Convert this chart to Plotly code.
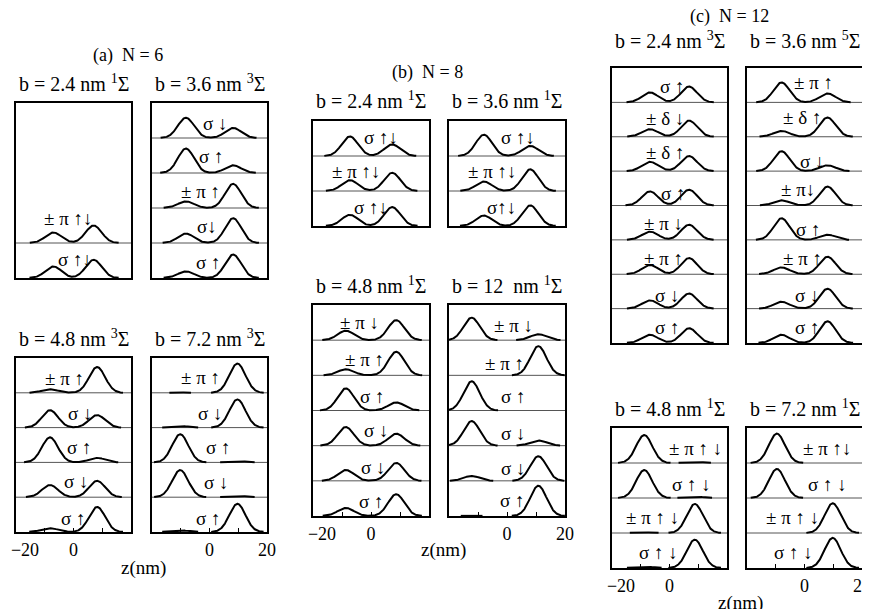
import numpy as np
import plotly.graph_objects as go

# page body adds an 8 px margin, so the figure is laid out in page pixels minus OFF
OFF = 8
W, H = 862, 601
FONT = "Liberation Serif, DejaVu Serif"

# ---------------- data (rows listed top to bottom) ----------------
panels = ["a1", "a2", "a3", "a4", "b1", "b2", "b3", "b4", "c1", "c2", "c3", "c4"]

subtitles = {
    "a1": "b = 2.4 nm <sup>1</sup>Σ", "a2": "b = 3.6 nm <sup>3</sup>Σ",
    "a3": "b = 4.8 nm <sup>3</sup>Σ", "a4": "b = 7.2 nm <sup>3</sup>Σ",
    "b1": "b = 2.4 nm <sup>1</sup>Σ", "b2": "b = 3.6 nm <sup>1</sup>Σ",
    "b3": "b = 4.8 nm <sup>1</sup>Σ", "b4": "b = 12\u00a0 nm <sup>1</sup>Σ",
    "c1": "b = 2.4 nm <sup>3</sup>Σ", "c2": "b = 3.6 nm <sup>5</sup>Σ",
    "c3": "b = 4.8 nm <sup>1</sup>Σ", "c4": "b = 7.2 nm <sup>1</sup>Σ",
}
group_titles = ["(a)\u00a0\u00a0N = 6", "(b)\u00a0\u00a0N = 8", "(c)\u00a0\u00a0N = 12"]

n_slots = {"a1": 5, "a2": 5, "a3": 5, "a4": 5, "b1": 3, "b2": 3,
           "b3": 6, "b4": 6, "c1": 8, "c2": 8, "c3": 4, "c4": 4}

labels = {
    "a1": ["± π ↑↓", "σ ↑↓"],
    "a2": ["σ ↓", "σ ↑", "± π ↑", "σ↓", "σ ↑"],
    "a3": ["± π ↑", "σ ↓", "σ ↑", "σ ↓", "σ ↑"],
    "a4": ["± π ↑", "σ ↓", "σ ↑", "σ ↓", "σ ↑"],
    "b1": ["σ ↑↓", "± π ↑↓", "σ ↑↓"],
    "b2": ["σ ↑↓", "± π ↑↓", "σ↑↓"],
    "b3": ["± π ↓", "± π ↑", "σ ↑", "σ ↓", "σ ↓", "σ ↑"],
    "b4": ["± π ↓", "± π ↑", "σ ↑", "σ ↓", "σ ↓", "σ ↑"],
    "c1": ["σ ↑", "± δ ↓", "± δ ↑", "σ ↑", "± π ↓", "± π ↑", "σ ↓", "σ ↑"],
    "c2": ["± π ↑", "± δ ↑", "σ ↓", "± π↓", "σ ↑", "± π ↑", "σ ↓", "σ ↑"],
    "c3": ["± π ↑ ↓", "σ ↑ ↓", "± π ↑ ↓", "σ ↑ ↓"],
    "c4": ["± π ↑↓", "σ ↑ ↓", "± π ↑ ↓", "σ ↑ ↓"],
}

left_amp = {
    "a1": [0.30, 0.33],
    "a2": [0.58, 0.70, 0.19, 0.27, 0.19],
    "a3": [0.10, 0.50, 0.72, 0.35, 0.11],
    "a4": [0.01, 0.05, 0.81, 0.78, 0.05],
    "b1": [0.56, 0.31, 0.32],
    "b2": [0.61, 0.27, 0.30],
    "b3": [0.27, 0.17, 0.63, 0.53, 0.31, 0.23],
    "b4": [0.64, 0.00, 0.83, 0.70, 0.14, 0.01],
    "c1": [0.29, 0.22, 0.27, 0.41, 0.24, 0.27, 0.24, 0.24],
    "c2": [0.58, 0.17, 0.58, 0.15, 0.63, 0.20, 0.20, 0.24],
    "c3": [0.80, 0.80, 0.02, 0.04],
    "c4": [0.84, 0.83, 0.00, 0.00],
}
right_amp = {
    "a1": [0.50, 0.52],
    "a2": [0.29, 0.22, 0.69, 0.71, 0.67],
    "a3": [0.74, 0.36, 0.13, 0.47, 0.72],
    "a4": [0.84, 0.81, 0.04, 0.04, 0.81],
    "b1": [0.33, 0.52, 0.54],
    "b2": [0.29, 0.62, 0.59],
    "b3": [0.57, 0.67, 0.23, 0.34, 0.51, 0.62],
    "b4": [0.17, 0.83, 0.00, 0.15, 0.70, 0.86],
    "c1": [0.46, 0.47, 0.44, 0.46, 0.44, 0.47, 0.44, 0.43],
    "c2": [0.26, 0.56, 0.17, 0.55, 0.15, 0.51, 0.58, 0.63],
    "c3": [0.03, 0.04, 0.83, 0.81],
    "c4": [0.00, 0.00, 0.85, 0.86],
}
dot_left = {"a1": -7.0, "a2": -8.2, "a3": -8.2, "a4": -10.2, "b1": -7.3, "b2": -8.0,
            "b3": -8.7, "b4": -12.2, "c1": -6.8, "c2": -8.0, "c3": -8.8, "c4": -9.6}
dot_right = {"a1": 7.0, "a2": 8.2, "a3": 8.2, "a4": 9.7, "b1": 7.3, "b2": 8.0,
             "b3": 8.7, "b4": 10.8, "c1": 6.8, "c2": 8.0, "c3": 8.8, "c4": 9.8}
peak_width = 2.8  # nm

# ---------------- layout (page pixels) ----------------
boxes = {  # x0, x1, y0(top), y1(bottom)
    "a1": (16, 131, 103, 278), "a2": (152, 267, 103, 278),
    "a3": (16, 131, 358, 532), "a4": (152, 267, 358, 532),
    "b1": (313, 429, 121, 226), "b2": (449, 565, 121, 226),
    "b3": (313, 429, 305, 516), "b4": (449, 565, 305, 516),
    "c1": (612, 727, 68, 343), "c2": (747, 862, 68, 343),
    "c3": (612, 727, 428, 568), "c4": (747, 862, 428, 568),
}
sub_y = {"a1": 83, "a2": 83, "a3": 338, "a4": 338, "b1": 100, "b2": 100,
         "b3": 285, "b4": 285, "c1": 40, "c2": 40, "c3": 408, "c4": 408}
title_pos = [(128, 55), (427, 72), (729, 17)]
zlab_pos = [(143, 568), (443, 550), (740, 603)]

lab_z = {
    "a1": [-1.8, 0.5],
    "a2": [2.2, 0.8, -3.0, -0.9, -0.3],
    "a3": [-3.2, 2.3, 2.0, 0.9, 0.0],
    "a4": [-3.0, 0.2, 3.1, 2.5, -0.3],
    "b1": [3.6, -5.0, 0.0],
    "b2": [3.9, -4.9, -1.8],
    "b3": [-4.1, -2.2, 0.5, 1.8, 0.7, 0.1],
    "b4": [2.2, -0.7, 2.2, 2.2, 2.2, 1.9],
    "c1": [0.9, -1.4, -1.4, 1.3, -2.0, -2.0, -0.6, -0.6],
    "c2": [3.2, -0.8, 2.7, -2.3, 1.5, -0.8, 0.9, 0.9],
    "c3": [9.0, 7.5, -6.0, -4.0],
    "c4": [8.0, 7.9, -4.3, -4.0],
}
lab_y = {
    "a1": [0.69, 0.54],
    "a2": [0.41, 0.46, 0.48, 0.46, 0.43],
    "a3": [0.41, 0.41, 0.44, 0.45, 0.40],
    "a4": [0.44, 0.41, 0.43, 0.42, 0.40],
    "b1": [0.54, 0.55, 0.54],
    "b2": [0.54, 0.55, 0.54],
    "b3": [0.49, 0.45, 0.41, 0.44, 0.37, 0.40],
    "b4": [0.43, 0.33, 0.39, 0.34, 0.34, 0.45],
    "c1": [0.46, 0.52, 0.53, 0.34, 0.49, 0.47, 0.39, 0.44],
    "c2": [0.58, 0.56, 0.29, 0.46, 0.31, 0.47, 0.39, 0.44],
    "c3": [0.41, 0.38, 0.43, 0.43],
    "c4": [0.41, 0.38, 0.43, 0.43],
}
bottom_left = {"a3", "b3", "c3"}
bottom_right = {"a4", "b4", "c4"}


def px(x):
    return (x - OFF) / W


def py(y):
    return 1 - (y - OFF) / H


z = np.linspace(-20, 20, 801)

fig = go.Figure()
annotations = []
shapes = []
layout_axes = {}

tick_common = dict(ticks="inside", ticklen=4, tickwidth=1, tickcolor="black",
                   tickfont=dict(family=FONT, size=18, color="black"),
                   minor=dict(tickvals=[-10, 10], ticks="inside", ticklen=4,
                              tickwidth=1, tickcolor="black", showgrid=False))

for k, p in enumerate(panels):
    idx = k + 1
    xa = "x" if idx == 1 else f"x{idx}"
    ya = "y" if idx == 1 else f"y{idx}"
    x0, x1, y0, y1 = boxes[p]
    n = n_slots[p]
    rows = len(labels[p])
    for r in range(rows):
        base = rows - 1 - r
        dens = (left_amp[p][r] * np.exp(-0.5 * ((z - dot_left[p]) / peak_width) ** 2)
                + right_amp[p][r] * np.exp(-0.5 * ((z - dot_right[p]) / peak_width) ** 2))
        yv = np.where(dens > 0.004, base + dens, np.nan)
        fig.add_trace(go.Scatter(x=z, y=yv, mode="lines", xaxis=xa, yaxis=ya,
                                 line=dict(color="black", width=2), showlegend=False,
                                 hoverinfo="skip", connectgaps=False))
        annotations.append(dict(x=lab_z[p][r], y=base + lab_y[p][r], xref=xa, yref=ya,
                                text=labels[p][r], showarrow=False,
                                xanchor="center", yanchor="middle",
                                font=dict(family=FONT, size=19, color="black")))
    for s in range(1, rows):
        shapes.append(dict(type="line", xref=xa, yref=ya, x0=-20, x1=20, y0=s, y1=s,
                           line=dict(color="#555555", width=1), layer="below"))
    xdict = dict(domain=[px(x0), px(x1)], range=[-20, 20], anchor=ya, automargin=False,
                 showline=True, mirror=True, linecolor="black", linewidth=2,
                 showgrid=False, zeroline=False, fixedrange=True, ticklabeloverflow="allow")
    if p in bottom_left:
        xdict.update(tickvals=[-20, 0], ticktext=["\u00a0\u00a0\u00a0\u00a0−20", "0"], **tick_common)
    elif p in bottom_right:
        xdict.update(tickvals=[0, 20], ticktext=["0", "20"], **tick_common)
    else:
        xdict.update(showticklabels=False, ticks="")
    ydict = dict(domain=[py(y1), py(y0)], range=[0, n], anchor=xa, automargin=False,
                 showline=True, mirror=True, linecolor="black", linewidth=2,
                 showgrid=False, zeroline=False, showticklabels=False, ticks="",
                 fixedrange=True)
    layout_axes["xaxis" if idx == 1 else f"xaxis{idx}"] = xdict
    layout_axes["yaxis" if idx == 1 else f"yaxis{idx}"] = ydict
    annotations.append(dict(x=px((x0 + x1) / 2), y=py(sub_y[p]), xref="paper", yref="paper",
                            text=subtitles[p], showarrow=False, xanchor="center", yanchor="middle",
                            font=dict(family=FONT, size=20, color="black")))

for t, (tx, ty) in zip(group_titles, title_pos):
    annotations.append(dict(x=px(tx), y=py(ty), xref="paper", yref="paper", text=t,
                            showarrow=False, xanchor="center", yanchor="middle",
                            font=dict(family=FONT, size=18, color="black")))
for (tx, ty) in zlab_pos:
    annotations.append(dict(x=px(tx), y=py(ty), xref="paper", yref="paper", text="z(nm)",
                            showarrow=False, xanchor="center", yanchor="middle",
                            font=dict(family=FONT, size=19, color="black")))

fig.update_layout(width=W, height=H, margin=dict(l=0, r=0, t=0, b=0),
                  paper_bgcolor="white", plot_bgcolor="white",
                  annotations=annotations, shapes=shapes, **layout_axes)
fig.write_html("out.html")
